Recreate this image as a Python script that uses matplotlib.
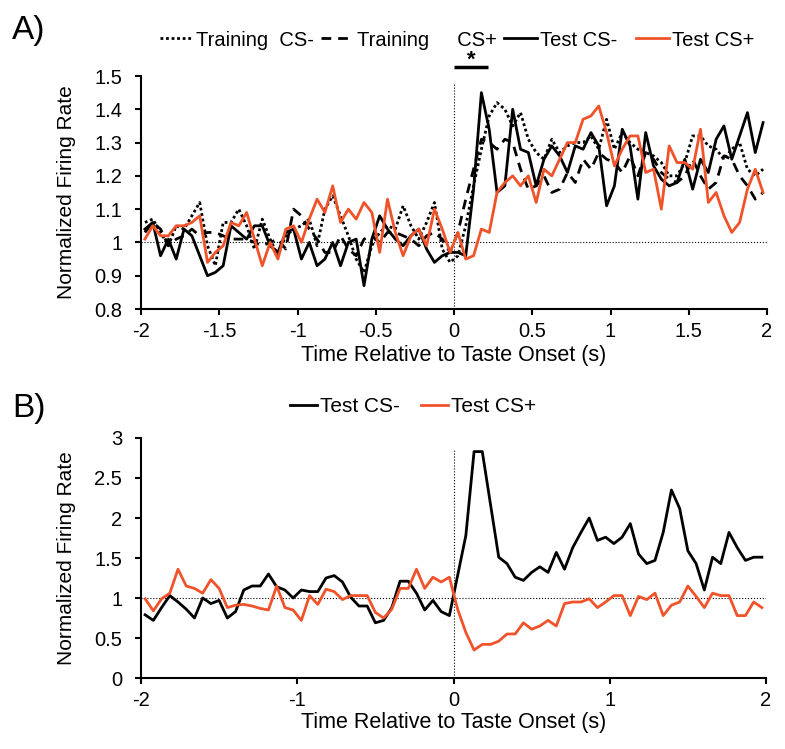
import numpy as np
import matplotlib
matplotlib.use("Agg")
import matplotlib.pyplot as plt
from matplotlib.lines import Line2D
from matplotlib.ticker import FuncFormatter

plt.rcParams['font.family'] = ['Liberation Sans', 'DejaVu Sans']
plt.rcParams['axes.unicode_minus'] = False

# ---- panel A: 50 ms bins, values at bin centres ----
time_a = np.arange(-2, 2, 0.05) + 0.025

training_cs_minus = [1.06, 1.07, 1.03, 0.99, 1.05, 1.04, 1.08, 1.12, 0.99, 0.93,
                     1.06, 1.06, 1.10, 1.05, 0.98, 1.07, 1.01, 0.96, 1.02, 1.04,
                     1.05, 1.07, 0.99, 1.10, 1.14, 1.08, 1.02, 0.95, 0.91, 0.99,
                     1.03, 1.05, 1.04, 1.11, 1.05, 1.01, 1.06, 1.12, 0.98, 0.94,
                     0.96, 1.05, 1.17, 1.28, 1.38, 1.42, 1.40, 1.35, 1.39, 1.31,
                     1.27, 1.25, 1.31, 1.27, 1.29, 1.30, 1.30, 1.32, 1.28, 1.37,
                     1.28, 1.33, 1.30, 1.28, 1.27, 1.26, 1.24, 1.20, 1.20, 1.24,
                     1.32, 1.32, 1.29, 1.28, 1.25, 1.28, 1.30, 1.22, 1.20, 1.22]

training_cs_plus = [1.03, 1.06, 1.04, 0.99, 1.01, 1.02, 1.04, 1.02, 1.03, 1.03,
                    1.02, 1.01, 1.01, 1.01, 1.00, 0.99, 1.00, 1.01, 0.98, 1.10,
                    1.08, 1.04, 1.01, 0.97, 0.97, 1.02, 0.98, 0.96, 1.01, 1.02,
                    1.00, 1.03, 1.03, 1.02, 1.01, 0.99, 1.02, 1.03, 1.01, 0.97,
                    1.03, 1.13, 1.22, 1.31, 1.30, 1.28, 1.31, 1.30, 1.22, 1.16,
                    1.17, 1.20, 1.15, 1.16, 1.21, 1.18, 1.25, 1.22, 1.27, 1.25,
                    1.24, 1.21, 1.26, 1.20, 1.27, 1.25, 1.21, 1.19, 1.18, 1.20,
                    1.25, 1.20, 1.16, 1.18, 1.26, 1.25, 1.20, 1.17, 1.13, 1.15]

test_cs_minus_a = [1.04, 1.06, 0.96, 1.01, 0.95, 1.04, 1.02, 0.96, 0.90, 0.91,
                   0.93, 1.05, 1.03, 1.01, 1.05, 1.05, 0.99, 0.97, 1.03, 1.04,
                   0.95, 1.00, 0.93, 0.95, 1.00, 0.93, 1.00, 1.01, 0.87, 1.01,
                   1.08, 1.04, 1.01, 0.99, 1.02, 1.04, 0.98, 0.94, 0.96, 0.97,
                   0.97, 0.96, 1.16, 1.45, 1.34, 1.15, 1.17, 1.40, 1.28, 1.27,
                   1.17, 1.25, 1.29, 1.26, 1.21, 1.29, 1.28, 1.33, 1.29, 1.11,
                   1.17, 1.34, 1.29, 1.13, 1.33, 1.23, 1.19, 1.17, 1.18, 1.25,
                   1.16, 1.25, 1.21, 1.31, 1.35, 1.25, 1.32, 1.39, 1.27, 1.36]

test_cs_plus_a = [1.01, 1.05, 1.02, 1.02, 1.05, 1.05, 1.06, 1.08, 0.94, 0.97,
                  0.99, 1.06, 1.05, 1.09, 1.01, 0.93, 1.00, 0.95, 1.04, 1.05,
                  1.00, 1.07, 1.13, 1.09, 1.17, 1.06, 1.10, 1.07, 1.12, 1.09,
                  0.97, 1.13, 1.03, 0.96, 1.02, 1.04, 0.99, 1.10, 1.04, 0.97,
                  1.03, 0.95, 0.96, 1.04, 1.03, 1.15, 1.18, 1.20, 1.17, 1.20,
                  1.12, 1.22, 1.20, 1.25, 1.30, 1.30, 1.37, 1.38, 1.41, 1.33,
                  1.23, 1.28, 1.32, 1.32, 1.21, 1.22, 1.10, 1.29, 1.24, 1.24,
                  1.22, 1.34, 1.12, 1.15, 1.08, 1.03, 1.06, 1.16, 1.22, 1.15]

# ---- panel B: 76 bins across -2..2 s ----
time_b = -2 + (np.arange(76) + 0.5) * 4 / 76

test_cs_minus_b = [0.79, 0.72, 0.88, 1.03, 0.95, 0.86, 0.75, 1.00, 0.93, 0.97,
                   0.75, 0.83, 1.10, 1.15, 1.15, 1.30, 1.14, 1.10, 1.00, 1.10,
                   1.08, 1.08, 1.25, 1.28, 1.20, 1.01, 0.90, 0.90, 0.69, 0.72,
                   0.88, 1.21, 1.21, 1.06, 0.85, 0.97, 0.83, 0.78,
                   1.28, 1.78, 2.83, 2.83, 2.17, 1.51, 1.43, 1.26, 1.22, 1.32,
                   1.39, 1.32, 1.57, 1.36, 1.63, 1.82, 2.00, 1.72, 1.76, 1.68,
                   1.76, 1.93, 1.55, 1.43, 1.47, 1.82, 2.35, 2.12, 1.59, 1.43,
                   1.10, 1.51, 1.43, 1.82, 1.63, 1.47, 1.51, 1.51]

test_cs_plus_b = [0.99, 0.84, 0.99, 1.06, 1.36, 1.15, 1.12, 1.06, 1.23, 1.12,
                  0.88, 0.91, 0.92, 0.90, 0.87, 0.85, 1.15, 0.88, 0.85, 0.72,
                  1.03, 0.92, 1.11, 1.08, 0.98, 1.03, 1.03, 1.03, 0.82, 0.75,
                  0.86, 1.12, 1.12, 1.36, 1.12, 1.26, 1.20, 1.26,
                  0.86, 0.57, 0.35, 0.42, 0.42, 0.46, 0.55, 0.55, 0.69, 0.61,
                  0.65, 0.72, 0.65, 0.93, 0.95, 0.95, 0.99, 0.88, 0.95, 1.03,
                  1.03, 0.78, 1.02, 0.98, 1.06, 0.78, 0.91, 0.95, 1.15, 1.02,
                  0.88, 1.06, 1.03, 1.03, 0.78, 0.78, 0.95, 0.88]

orange = '#F0532A'
lw = 2.0
fmt = FuncFormatter(lambda v, p: '%g' % round(v, 2))


def style(ax):
    for s in ['top', 'right']:
        ax.spines[s].set_visible(False)
    for s in ['left', 'bottom']:
        ax.spines[s].set_linewidth(1.5)
    ax.tick_params(direction='out', length=4.5, width=1.5, labelsize=14.5)
    ax.tick_params(axis='y', pad=9)
    ax.tick_params(axis='x', pad=5)
    ax.xaxis.set_major_formatter(fmt)
    ax.yaxis.set_major_formatter(fmt)


fig = plt.figure(figsize=(7.85, 7.49), dpi=100)

# panel A
axA = fig.add_axes([141 / 785, 1 - 309 / 749, 626 / 785, 233 / 749])
axA.plot([-2, 2], [1, 1], color='k', lw=0.8, ls=':')
axA.plot([0, 0], [0.8, 1.48], color='k', lw=0.8, ls=':')
axA.plot(time_a, training_cs_minus, color='k', lw=lw, ls=(0, (1, 1)))
axA.plot(time_a, training_cs_plus, color='k', lw=lw, ls=(0, (3.5, 2.5)))
axA.plot(time_a, test_cs_minus_a, color='k', lw=lw)
axA.plot(time_a, test_cs_plus_a, color=orange, lw=lw)
axA.set_xlim(-2, 2)
axA.set_ylim(0.8, 1.5)
axA.set_xticks(np.arange(-2, 2.01, 0.5))
axA.set_yticks(np.arange(0.8, 1.51, 0.1))
axA.set_xlabel('Time Relative to Taste Onset (s)', fontsize=15.5, labelpad=3)
axA.set_ylabel('Normalized Firing Rate', fontsize=15, labelpad=13)
style(axA)
# significance bar
axA.plot([0, 0.22], [1.527, 1.527], color='k', lw=2.5, clip_on=False,
         solid_capstyle='butt')
axA.text(0.11, 1.548, '*', fontsize=16, fontweight='bold', ha='center',
         va='center')

# panel B
axB = fig.add_axes([141 / 785, 1 - 678 / 749, 625 / 785, 240 / 749])
axB.plot([-2, 2], [1, 1], color='k', lw=0.8, ls=':')
axB.plot([0, 0], [0, 2.86], color='k', lw=0.8, ls=':')
axB.plot(time_b, test_cs_minus_b, color='k', lw=lw)
axB.plot(time_b, test_cs_plus_b, color=orange, lw=lw)
axB.set_xlim(-2, 2)
axB.set_ylim(0, 3)
axB.set_xticks([-2, -1, 0, 1, 2])
axB.set_yticks(np.arange(0, 3.01, 0.5))
axB.set_xlabel('Time Relative to Taste Onset (s)', fontsize=15.5, labelpad=1)
axB.set_ylabel('Normalized Firing Rate', fontsize=15, labelpad=13)
style(axB)

# legends
hA = [Line2D([], [], color='k', lw=lw, ls=(0, (1, 1))),
      Line2D([], [], color='k', lw=lw, ls=(0, (3.5, 2.5))),
      Line2D([], [], color='k', lw=lw),
      Line2D([], [], color=orange, lw=lw)]
fig.legend(hA, ['Training  CS-', 'Training     CS+', 'Test CS-  ', 'Test CS+'],
           ncol=4, loc='center', bbox_to_anchor=(457 / 785, 1 - 40 / 749),
           frameon=False, fontsize=14.5, handlelength=1.65, handletextpad=0.15,
           columnspacing=0.35, borderpad=0.1)
hB = [Line2D([], [], color='k', lw=lw), Line2D([], [], color=orange, lw=lw)]
fig.legend(hB, ['Test CS-', 'Test CS+'], ncol=2, loc='center',
           bbox_to_anchor=(413 / 785, 1 - 407 / 749), frameon=False,
           fontsize=15, handlelength=1.3, handletextpad=0.15, columnspacing=1.0)

fig.text(12 / 785, 1 - 30 / 749, 'A)', fontsize=24, va='center')
fig.text(12 / 785, 1 - 408 / 749, 'B)', fontsize=24, va='center')

fig.savefig('out.png', dpi=100)
